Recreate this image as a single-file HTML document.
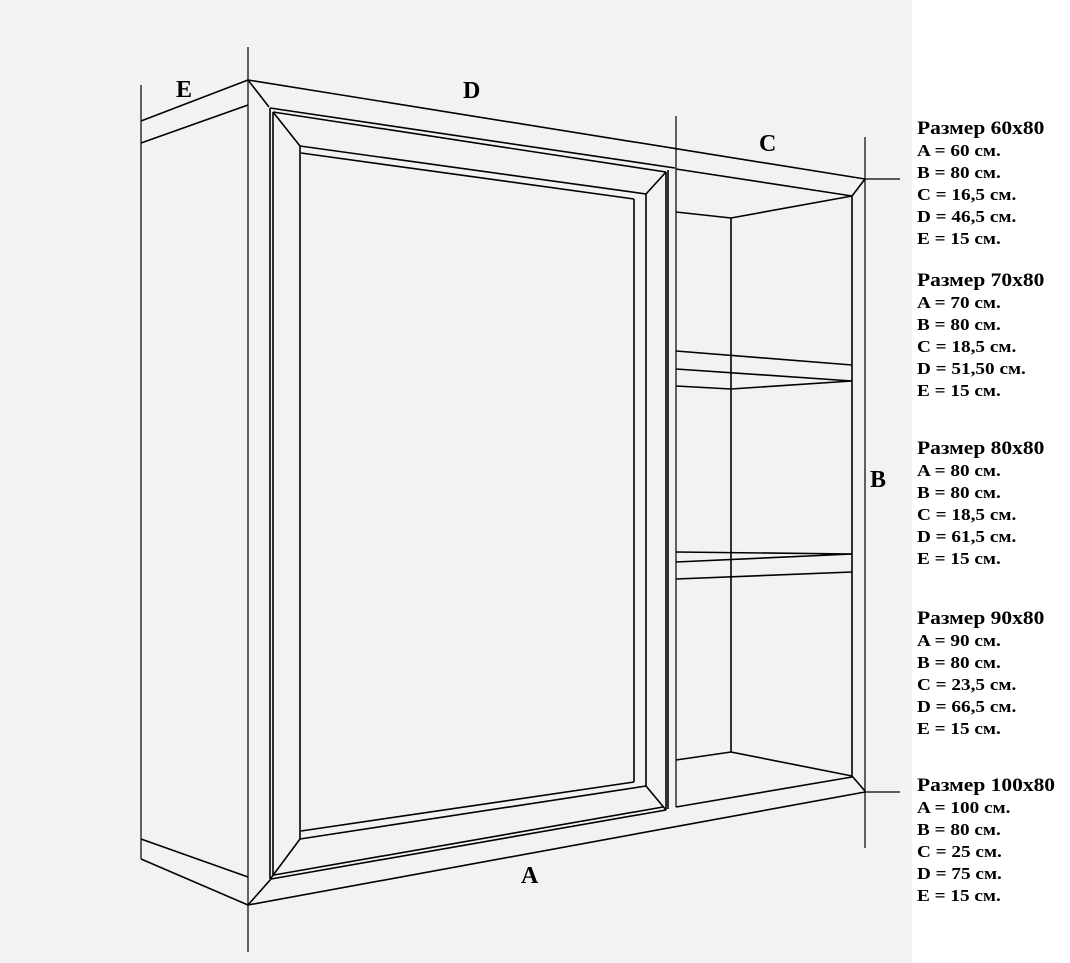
<!DOCTYPE html>
<html><head><meta charset="utf-8"><style>
html,body{margin:0;padding:0;}
body{width:1070px;height:963px;background:#fff;position:relative;overflow:hidden;font-family:"Liberation Serif",serif;}
.bg{position:absolute;left:0;top:0;width:912px;height:963px;background:#f3f2f0;}
svg{position:absolute;left:0;top:0;}
.t{position:absolute;left:917px;font-weight:bold;color:#000;font-size:17px;line-height:22px;transform:scaleX(1.13);transform-origin:0 0;white-space:nowrap;}
.t b{font-size:19px;display:block;line-height:22px;}
</style></head><body>
<div class="bg"></div>
<svg width="1070" height="963" viewBox="0 0 1070 963" fill="none" stroke="#000" stroke-width="1.6" stroke-linejoin="round">
<g stroke-width="1.2">
<line x1="248" y1="47" x2="248" y2="952"/>
<line x1="676" y1="116" x2="676" y2="807"/>
<line x1="865" y1="137" x2="865" y2="848"/>
<line x1="865" y1="179" x2="900" y2="179"/>
<line x1="865" y1="792" x2="900" y2="792"/>
<line x1="141" y1="85" x2="141" y2="859"/>
</g>
<polyline points="141,121 248,80"/>
<polyline points="141,143 248,105"/>
<polyline points="141,839 248,877"/>
<polyline points="141,859 248,905"/>
<polyline points="248,80 865,179"/>
<polyline points="248,905 865,792"/>
<polyline points="248,80 269,107"/>
<polyline points="248,905 271,879"/>
<polyline points="270,108 675,168"/>
<polyline points="273,112 666,172"/>
<polyline points="300,146 646,194"/>
<polyline points="301,153 634,199"/>
<polyline points="273,112 300,146"/>
<polyline points="646,194 666,172"/>
<line x1="270" y1="108" x2="270" y2="879"/>
<line x1="273" y1="112" x2="273" y2="876"/>
<line x1="300" y1="146" x2="300" y2="839"/>
<line x1="634" y1="199" x2="634" y2="782"/>
<line x1="646" y1="194" x2="646" y2="786"/>
<line x1="666" y1="172" x2="666" y2="810"/>
<line x1="668" y1="170" x2="668" y2="809"/>
<polyline points="271,879 666,810"/>
<polyline points="274,875 663,807"/>
<polyline points="300,839 646,786"/>
<polyline points="301,831 634,782"/>
<polyline points="300,839 271,878"/>
<polyline points="646,786 666,810"/>
<polyline points="676,169 852,196 865,179"/>
<polyline points="676,212 731,218 852,196"/>
<line x1="731" y1="218" x2="731" y2="752"/>
<line x1="852" y1="196" x2="852" y2="776"/>
<polyline points="676,351 852,365"/>
<polyline points="676,369 852,381"/>
<polyline points="676,386 731,389 852,381"/>
<polyline points="676,552 852,554"/>
<polyline points="676,562 852,554"/>
<polyline points="676,579 852,572"/>
<polyline points="676,760 731,752 852,776 865,791"/>
<polyline points="676,807 852,777"/>
</svg>
<div style="position:absolute;font:bold 24px 'Liberation Serif',serif;left:176px;top:77px;">E</div>
<div style="position:absolute;font:bold 24px 'Liberation Serif',serif;left:463px;top:78px;">D</div>
<div style="position:absolute;font:bold 24px 'Liberation Serif',serif;left:759px;top:131px;">C</div>
<div style="position:absolute;font:bold 24px 'Liberation Serif',serif;left:870px;top:467px;">B</div>
<div style="position:absolute;font:bold 24px 'Liberation Serif',serif;left:521px;top:863px;">A</div>
<div class="t" style="top:118px;"><b>Размер 60x80</b>A = 60 см.<br>B = 80 см.<br>C = 16,5 см.<br>D = 46,5 см.<br>E = 15 см.</div>
<div class="t" style="top:270px;"><b>Размер 70x80</b>A = 70 см.<br>B = 80 см.<br>C = 18,5 см.<br>D = 51,50 см.<br>E = 15 см.</div>
<div class="t" style="top:438px;"><b>Размер 80x80</b>A = 80 см.<br>B = 80 см.<br>C = 18,5 см.<br>D = 61,5 см.<br>E = 15 см.</div>
<div class="t" style="top:608px;"><b>Размер 90x80</b>A = 90 см.<br>B = 80 см.<br>C = 23,5 см.<br>D = 66,5 см.<br>E = 15 см.</div>
<div class="t" style="top:775px;"><b>Размер 100x80</b>A = 100 см.<br>B = 80 см.<br>C = 25 см.<br>D = 75 см.<br>E = 15 см.</div>
</body></html>
